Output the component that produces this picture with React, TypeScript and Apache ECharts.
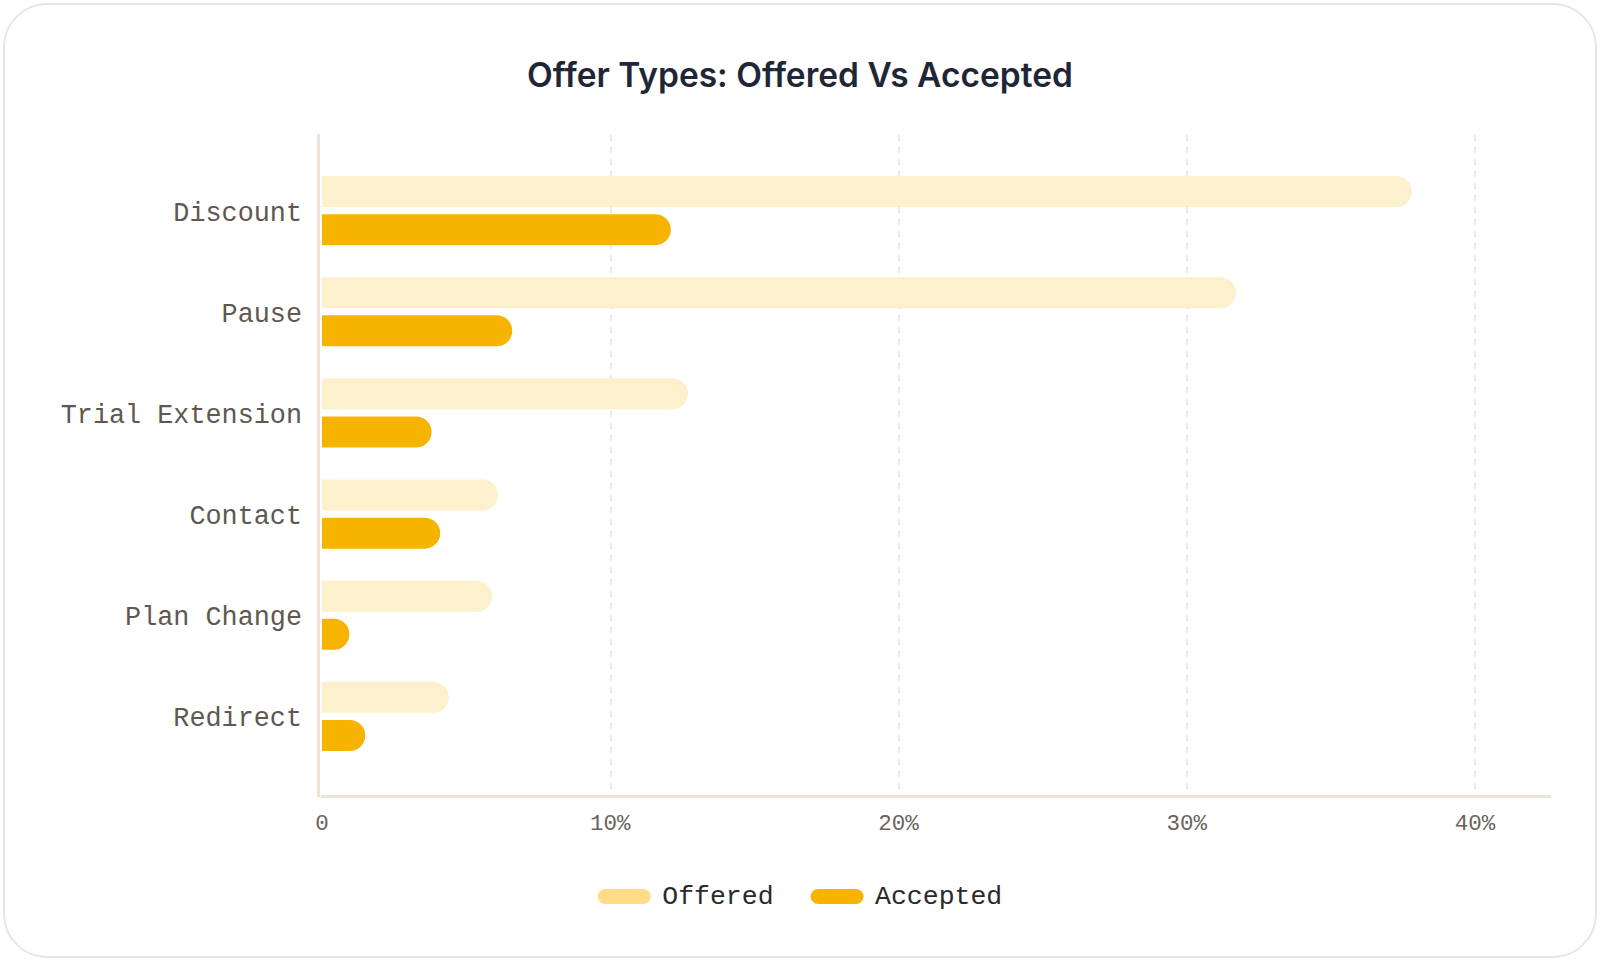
import React, { useEffect, useRef } from "react";
import * as echarts from "echarts";

const categories = ["Discount", "Pause", "Trial Extension", "Contact", "Plan Change", "Redirect"];
const offered = [37.8, 31.7, 12.7, 6.1, 5.9, 4.4];
const accepted = [12.1, 6.6, 3.8, 4.1, 0.95, 1.5];
const xTicks = [0, 10, 20, 30, 40];
const seriesNames = ["Offered", "Accepted"];

const MONO = "'Liberation Mono', 'DejaVu Sans Mono', monospace";

export default function App() {
  const ref = useRef<HTMLDivElement>(null);

  useEffect(() => {
    document.body.style.margin = "0";
    if (!ref.current) return;
    const chart = echarts.init(ref.current, undefined, { renderer: "svg" });
    const xMax = 42.6;
    const pill = "path://M8,0 L46,0 A7.5,7.5 0 0 1 46,15 L8,15 A7.5,7.5 0 0 1 8,0 Z";
    chart.setOption({
      animation: false,
      title: {
        text: "Offer Types: Offered Vs Accepted",
        left: "center",
        top: 53,
        textStyle: { fontFamily: "Inter", fontWeight: 600, fontSize: 33.5, color: "#1F2737" },
      },
      legend: {
        left: "center",
        top: 878,
        itemWidth: 54,
        itemHeight: 15,
        itemGap: 37,
        icon: pill,
        textStyle: { fontFamily: MONO, fontSize: 26.5, color: "#2A2A2A", padding: [0, 0, 0, 6] },
        data: [
          { name: seriesNames[0], itemStyle: { color: "#FFDC85", opacity: 1 } },
          { name: seriesNames[1], itemStyle: { color: "#F6B300" } },
        ],
      },
      grid: [
        { left: 322, right: 50, top: 160, height: 607 },
        { left: 322, right: 50, top: 135, height: 661 },
      ],
      xAxis: [
        { type: "value", gridIndex: 0, min: 0, max: xMax, show: false },
        {
          type: "value",
          gridIndex: 1,
          min: 0,
          max: xMax,
          interval: 10,
          axisLine: { show: true, onZero: false, lineStyle: { color: "#EDE3D9", width: 3 } },
          axisTick: { show: false },
          axisLabel: {
            margin: 16,
            showMaxLabel: false,
            fontFamily: MONO,
            fontSize: 22.5,
            color: "#6A635C",
            formatter: (v: number) => (xTicks.indexOf(v) < 0 ? "" : v === 0 ? "0" : v + "%"),
          },
          splitLine: {
            show: true,
            showMinLine: false,
            showMaxLine: false,
            lineStyle: { color: "#E3E3E3", type: [6, 6], width: 1.5 },
          },
        },
      ],
      yAxis: [
        {
          type: "category",
          gridIndex: 0,
          inverse: true,
          data: categories,
          axisLine: { show: false },
          axisTick: { show: false },
          axisLabel: {
            margin: 20,
            verticalAlign: "top",
            lineHeight: 6,
            fontFamily: MONO,
            fontSize: 26.8,
            color: "#5F5850",
          },
        },
        {
          type: "value",
          gridIndex: 1,
          min: 0,
          max: 1,
          offset: 4,
          axisLine: { show: true, onZero: false, lineStyle: { color: "#EDE3D9", width: 3 } },
          axisTick: { show: false },
          axisLabel: { show: false },
          splitLine: { show: false },
        },
      ],
      series: [
        {
          name: seriesNames[0],
          type: "bar",
          xAxisIndex: 0,
          yAxisIndex: 0,
          data: offered,
          barWidth: 31,
          barGap: "23%",
          itemStyle: { color: "#FDF0CD", borderRadius: [0, 16, 16, 0] },
        },
        {
          name: seriesNames[1],
          type: "bar",
          xAxisIndex: 0,
          yAxisIndex: 0,
          data: accepted,
          barWidth: 31,
          barGap: "23%",
          itemStyle: { color: "#F6B300", borderRadius: [0, 16, 16, 0] },
        },
      ],
    });
    return () => chart.dispose();
  }, []);

  return (
    <div style={{ position: "relative", width: 1600, height: 965, background: "#fff" }}>
      <div
        style={{
          position: "absolute",
          left: 3,
          top: 3,
          width: 1594,
          height: 955,
          boxSizing: "border-box",
          border: "2px solid #E6E6E6",
          borderRadius: 44,
          background: "#fff",
        }}
      />
      <div ref={ref} style={{ position: "absolute", left: 0, top: 0, width: 1600, height: 965 }} />
    </div>
  );
}
